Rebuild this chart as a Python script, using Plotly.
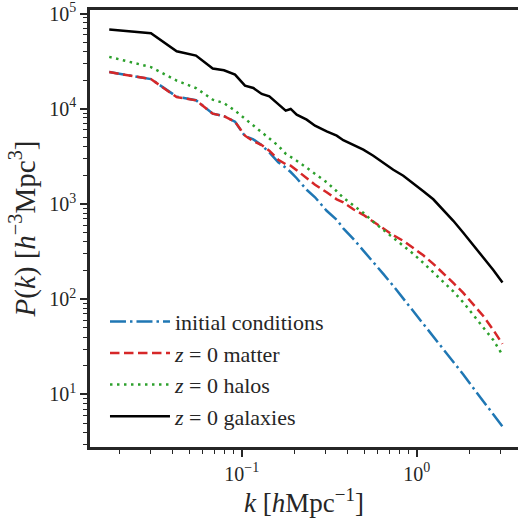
import plotly.graph_objects as go

# wavenumber bins k [h/Mpc]
k = [0.0175, 0.0303, 0.0425, 0.0548, 0.0683, 0.0792, 0.0916, 0.1044, 0.1165, 0.1301,
     0.1438, 0.1618, 0.1784, 0.1905, 0.2062, 0.2351, 0.2624, 0.3059, 0.349, 0.3806,
     0.4342, 0.4953, 0.5649, 0.6443, 0.7349, 0.8384, 0.9563, 1.091, 1.244, 1.419,
     1.619, 1.846, 2.106, 2.402, 2.740, 3.092]

initial_conditions = [24260, 20480, 13400, 12310, 8882, 8360, 7316, 5151, 4767, 4142,
                      3479, 2745, 2403, 2165, 1863, 1410, 1176, 848.3, 682.2, 555.3,
                      430.6, 326.1, 246.7, 184.5, 138.0, 102.0, 75.3, 55.0, 40.1, 29.7,
                      21.9, 16.2, 11.68, 8.42, 6.15, 4.60]

matter_z0 = [24260, 20480, 13240, 12250, 8882, 8360, 7316, 5213, 4563, 4162,
             3626, 2916, 2615, 2522, 2262, 1873, 1592, 1327, 1120, 1042,
             879.7, 769.8, 654.6, 548.6, 468.8, 410.2, 346.2, 288.8, 235.1, 189.1,
             148.4, 116.5, 89.2, 66.7, 47.6, 33.9]

halos_z0 = [35050, 27380, 19750, 16470, 12460, 11450, 9550, 7868, 6805, 5674,
            4909, 4093, 3373, 3135, 2847, 2403, 2078, 1691, 1360, 1162,
            969, 808, 649.8, 535.5, 446.4, 367.9, 299.5, 240.8, 191.3, 153.9,
            120.8, 92.6, 68.4, 51.1, 37.3, 25.96]

galaxies_z0 = [67880, 62070, 40140, 36170, 26410, 25340, 22840, 17490, 16550, 14310,
               13500, 11040, 9550, 9950, 8670, 7680, 6640, 5785, 5213, 4675,
               4193, 3715, 3212, 2712, 2289, 1979, 1659, 1360, 1120, 869,
               666, 498, 372, 272, 203, 149.5]

series_names = ["initial conditions", "<i>z</i> = 0 matter", "<i>z</i> = 0 halos", "<i>z</i> = 0 galaxies"]

xtick_vals = [0.1, 1]
xtick_text = ["10<sup>\u22121</sup>", "10<sup>0</sup>"]
ytick_vals = [10, 100, 1000, 10000, 100000]
ytick_text = ["10<sup>1</sup>", "10<sup>2</sup>", "10<sup>3</sup>", "10<sup>4</sup>", "10<sup>5</sup>"]

FONT = "Liberation Serif"
INK = "#262626"

styles = [
    dict(color="#1f77b4", dash="16px,4px,2.5px,4px"),
    dict(color="#d62728", dash="9.5px,4.5px"),
    dict(color="#2ca02c", dash="2.5px,4.5px"),
    dict(color="#000000", dash="solid"),
]
all_series = [initial_conditions, matter_z0, halos_z0, galaxies_z0]

fig = go.Figure()
for name, ys, st in zip(series_names, all_series, styles):
    fig.add_trace(go.Scatter(
        x=k, y=ys, mode="lines", name=name, legendgroup=name,
        line=dict(color=st["color"], width=2.5, dash=st["dash"]),
    ))

axis_common = dict(
    type="log", automargin=False,
    showline=True, linecolor=INK, linewidth=2.5,
    ticks="outside", ticklen=7, tickwidth=1.5, tickcolor=INK,
    showgrid=False, zeroline=False,
    tickfont=dict(family=FONT, size=20, color=INK),
    minor=dict(ticks="outside", ticklen=4.5, tickwidth=1.2, tickcolor=INK, dtick="D1", showgrid=False),
)

fig.update_layout(
    width=518, height=518,
    margin=dict(l=90, r=0, t=10, b=71),
    paper_bgcolor="white", plot_bgcolor="white",
    font=dict(family=FONT, color=INK),
    showlegend=True,
    legend=dict(
        x=0.035, y=0.335, xanchor="left", yanchor="top",
        bgcolor="rgba(0,0,0,0)", borderwidth=0,
        font=dict(family=FONT, size=22, color=INK),
        itemwidth=60, tracegroupgap=0,
    ),
    xaxis=dict(
        axis_common,
        range=[-1.867, 0.579], mirror=True,
        tickmode="array", tickvals=xtick_vals, ticktext=xtick_text,
        title=dict(text="<i>k</i> [<i>h</i>Mpc<sup>\u22121</sup>]", font=dict(family=FONT, size=27, color=INK), standoff=6),
    ),
    yaxis=dict(
        axis_common,
        range=[0.448, 5.037], mirror=False,
        tickmode="array", tickvals=ytick_vals, ticktext=ytick_text,
        title=dict(text="<i>P</i>(<i>k</i>) [<i>h</i><sup>\u22123</sup>Mpc<sup>3</sup>]", font=dict(family=FONT, size=29, color=INK), standoff=6),
    ),
)

fig.write_html("out.html", config={"displayModeBar": False},
               post_script="document.body.style.margin='0';document.body.style.overflow='hidden';")
